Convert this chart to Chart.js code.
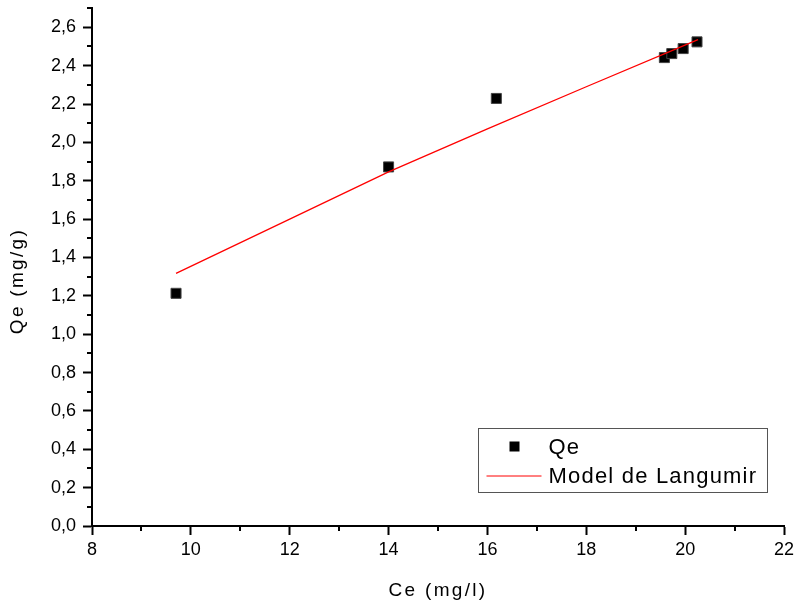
<!DOCTYPE html>
<html>
<head>
<meta charset="utf-8">
<script src="https://cdn.jsdelivr.net/npm/chart.js@4/dist/chart.umd.min.js"></script>
<style>
  html, body { margin: 0; padding: 0; background: #ffffff; }
  #wrap { width: 798px; height: 605px; position: relative; }
</style>
</head>
<body>
<div id="wrap"><canvas id="c" width="798" height="605"></canvas></div>
<script>
// ---- Data ----
const ceValues = [9.70, 14.00, 16.18, 19.58, 19.73, 19.96, 20.24];
const qeValues = [1.213, 1.872, 2.229, 2.442, 2.463, 2.489, 2.524];

const modelCe = [9.70, 12.00, 14.00, 16.00, 18.00, 20.26];
const modelQe = [1.317, 1.600, 1.846, 2.070, 2.290, 2.536];

const xTickValues = [8, 10, 12, 14, 16, 18, 20, 22];
const yTickValues = [0.0, 0.2, 0.4, 0.6, 0.8, 1.0, 1.2, 1.4, 1.6, 1.8, 2.0, 2.2, 2.4, 2.6];
const xMinorTicks = [9, 11, 13, 15, 17, 19, 21];
const yMinorTicks = [0.1, 0.3, 0.5, 0.7, 0.9, 1.1, 1.3, 1.5, 1.7, 1.9, 2.1, 2.3, 2.5, 2.7];

const seriesLabels = ['Qe', 'Model de Langumir'];
const xTitle = 'Ce (mg/l)';
const yTitle = 'Qe (mg/g)';

const FONT = "'Liberation Sans', Arial, sans-serif";

const pointsData = ceValues.map((x, i) => ({ x: x, y: qeValues[i] }));
const modelData = modelCe.map((x, i) => ({ x: x, y: modelQe[i] }));

// minor ticks plugin
const minorTicks = {
  id: 'minorTicks',
  afterDraw(chart) {
    const ctx = chart.ctx;
    const xs = chart.scales.x, ys = chart.scales.y;
    ctx.save();
    ctx.strokeStyle = '#000';
    ctx.lineWidth = 2;
    ctx.beginPath();
    xMinorTicks.forEach(v => {
      const px = Math.round(xs.getPixelForValue(v));
      ctx.moveTo(px, ys.bottom);
      ctx.lineTo(px, ys.bottom + 5);
    });
    yMinorTicks.forEach(v => {
      const py = Math.round(ys.getPixelForValue(v));
      ctx.moveTo(xs.left, py);
      ctx.lineTo(xs.left - 5, py);
    });
    ctx.stroke();
    ctx.restore();
  }
};

// letter-spaced axis titles (wraps the scales' own title drawing)
const spacedTitles = {
  id: 'spacedTitles',
  beforeDraw(chart) {
    ['x', 'y'].forEach(id => {
      const s = chart.scales[id];
      if (!s || s._spacedPatched) return;
      const orig = s.drawTitle.bind(s);
      s.drawTitle = function () {
        const ctx = this.ctx;
        ctx.save();
        try { ctx.letterSpacing = '2.3px'; } catch (e) {}
        if (id === 'y') ctx.translate(0, 14);
        orig();
        ctx.restore();
      };
      s._spacedPatched = true;
    });
  }
};

// legend box plugin (inside the plot area, bottom right)
const boxLegend = {
  id: 'boxLegend',
  afterDraw(chart) {
    const ctx = chart.ctx;
    const area = chart.chartArea;
    const right = area.right - 16.5;
    const bottom = area.bottom - 33.5;
    const w = 289, h = 64;
    const left = right - w, top = bottom - h;
    ctx.save();
    ctx.fillStyle = '#ffffff';
    ctx.fillRect(left, top, w, h);
    ctx.strokeStyle = '#555555';
    ctx.lineWidth = 1;
    ctx.strokeRect(left, top, w, h);
    const ds0 = chart.data.datasets[1];
    const ds1 = chart.data.datasets[0];
    ctx.fillStyle = ds0.backgroundColor;
    ctx.fillRect(left + 31, top + 13, 10, 10);
    ctx.strokeStyle = ds1.borderColor;
    ctx.lineWidth = 1;
    ctx.beginPath();
    ctx.moveTo(left + 8, top + 47.5);
    ctx.lineTo(left + 63, top + 47.5);
    ctx.stroke();
    ctx.fillStyle = '#000';
    ctx.font = '22px ' + FONT;
    ctx.textBaseline = 'middle';
    ctx.textAlign = 'left';
    try { ctx.letterSpacing = '1.2px'; } catch (e) {}
    ctx.fillText(ds0.label, left + 70, top + 19);
    ctx.fillText(ds1.label, left + 70, top + 48);
    ctx.restore();
  }
};

new Chart(document.getElementById('c'), {
  type: 'scatter',
  data: {
    datasets: [
      {
        type: 'line',
        label: seriesLabels[1],
        data: modelData,
        borderColor: '#ff0000',
        backgroundColor: '#ff0000',
        borderWidth: 1.3,
        pointRadius: 0,
        fill: false,
        tension: 0,
        order: 0
      },
      {
        label: seriesLabels[0],
        data: pointsData,
        pointStyle: 'rect',
        pointRadius: 7.1,
        pointHoverRadius: 7.1,
        backgroundColor: '#000000',
        borderColor: '#444444',
        borderWidth: 1,
        order: 1
      }
    ]
  },
  options: {
    responsive: false,
    animation: false,
    devicePixelRatio: 1,
    layout: { padding: { top: 8, right: 14, left: 0, bottom: 0 } },
    plugins: {
      legend: { display: false },
      tooltip: { enabled: false }
    },
    scales: {
      x: {
        type: 'linear',
        min: 8,
        max: 22,
        afterBuildTicks(scale) { scale.ticks = xTickValues.map(v => ({ value: v })); },
        afterFit(scale) { scale.height = 79; scale.paddingLeft = 0; scale.paddingRight = 0; },
        grid: { drawOnChartArea: false, drawTicks: true, tickLength: 9, tickColor: '#000', tickWidth: 2 },
        border: { display: true, color: '#000', width: 2 },
        ticks: {
          color: '#000',
          font: { family: FONT, size: 18 },
          padding: 4,
          maxRotation: 0,
          callback: v => String(v)
        },
        title: {
          display: true,
          text: xTitle,
          color: '#000',
          font: { family: FONT, size: 19 },
          padding: { top: 0, bottom: 3 }
        }
      },
      y: {
        type: 'linear',
        min: 0,
        max: 2.7,
        afterBuildTicks(scale) { scale.ticks = yTickValues.map(v => ({ value: v })); },
        afterFit(scale) { scale.width = 92; scale.paddingTop = 0; scale.paddingBottom = 0; },
        grid: { drawOnChartArea: false, drawTicks: true, tickLength: 9, tickColor: '#000', tickWidth: 2 },
        border: { display: true, color: '#000', width: 2 },
        ticks: {
          color: '#000',
          font: { family: FONT, size: 18 },
          padding: 7,
          callback: v => Number(v).toFixed(1).replace('.', ',')
        },
        title: {
          display: true,
          text: yTitle,
          color: '#000',
          font: { family: FONT, size: 19 },
          padding: { top: 6, bottom: 0 }
        }
      }
    }
  },
  plugins: [minorTicks, spacedTitles, boxLegend]
});
</script>
</body>
</html>
